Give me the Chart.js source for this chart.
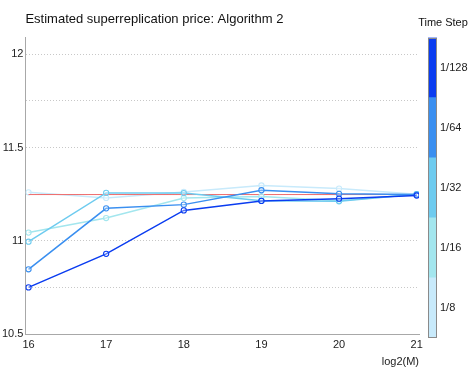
<!DOCTYPE html>
<html>
<head>
<meta charset="utf-8">
<script src="https://cdn.jsdelivr.net/npm/chart.js@4/dist/chart.umd.min.js"></script>
<style>
  body { margin: 0; background: #fff; }
  #wrap { position: relative; width: 471px; height: 377px; }
  #main { position: absolute; left: 0; top: 0; }
  #bar { position: absolute; left: 415px; top: 0; }
</style>
</head>
<body>
<div id="wrap">
  <canvas id="main" width="471" height="377"></canvas>
  <canvas id="bar" width="56" height="377"></canvas>
</div>
<script>
// === DATA ===
const logM = [16, 17, 18, 19, 20, 21];
const step8   = [11.260, 11.230, 11.262, 11.297, 11.280, 11.250];
const step16  = [11.044, 11.122, 11.229, 11.238, 11.215, 11.250];
const step32  = [10.995, 11.257, 11.256, 11.215, 11.212, 11.250];
const step64  = [10.847, 11.174, 11.194, 11.271, 11.252, 11.248];
const step128 = [10.750, 10.930, 11.163, 11.214, 11.226, 11.243];
const refPrice = [11.248, 11.248, 11.248, 11.248, 11.248, 11.248];

const stepLabels = ["1/8", "1/16", "1/32", "1/64", "1/128"];
const stepColors = ["#c8eafb", "#a3e6ee", "#6ecbef", "#3a8ff0", "#0a3cf0"];
const stepSeries = [step8, step16, step32, step64, step128];
const yTicks = [10.5, 10.75, 11, 11.25, 11.5, 11.75, 12];

Chart.defaults.font.family = "'Liberation Sans', Arial, sans-serif";
Chart.defaults.font.size = 11;
Chart.defaults.color = "#222";

const pts = arr => arr.map((v, i) => ({ x: logM[i], y: v }));

const lineSet = (i) => ({
  label: stepLabels[i],
  data: pts(stepSeries[i]),
  borderColor: stepColors[i],
  backgroundColor: "rgba(255,255,255,0)",
  borderWidth: 1.5,
  pointRadius: 2.6,
  pointBorderWidth: 1.1,
  pointBorderColor: stepColors[i],
  pointBackgroundColor: "rgba(255,255,255,0.3)"
});

// first dataset is drawn last (on top): darkest first, red above 1/8 only
const datasets = [
  lineSet(4), lineSet(3), lineSet(2), lineSet(1),
  { label: "reference", data: pts(refPrice), borderColor: "#f06c6c", borderWidth: 1, pointRadius: 0 },
  lineSet(0)
];

// === MAIN CHART ===
new Chart(document.getElementById("main"), {
  type: "line",
  data: { datasets },
  options: {
    responsive: false,
    animation: false,
    layout: { padding: { left: 0, right: 52, top: 0, bottom: 8.6 } },
    plugins: {
      legend: { display: false },
      tooltip: { enabled: false },
      title: {
        display: true,
        text: "Estimated superreplication price: Algorithm 2",
        align: "start",
        fullSize: false,
        color: "#111",
        font: { size: 13, weight: "normal" },
        padding: { top: 12, bottom: 10 }
      }
    },
    scales: {
      x: {
        type: "linear",
        min: 15.96,
        max: 21.03,
        afterBuildTicks: s => { s.ticks = logM.map(v => ({ value: v })); },
        grid: { display: false, drawTicks: false },
        border: { color: "#a8a8a8", width: 1 },
        ticks: { padding: 4, color: "#222" },
        title: {
          display: true,
          text: "log2(M)",
          align: "end",
          color: "#222",
          font: { size: 11 },
          padding: { top: 0, bottom: 0 }
        }
      },
      y: {
        min: 10.5,
        max: 12.09,
        afterBuildTicks: s => { s.ticks = yTicks.map(v => ({ value: v })); },
        grid: { color: "#c8c8c8", drawTicks: false },
        border: { color: "#a8a8a8", width: 1, dash: [1, 2] },
        ticks: {
          padding: 2,
          color: "#222",
          callback: v => (Number.isInteger(v * 2) ? String(v) : "")
        }
      }
    }
  }
});

// === COLOR BAR ===
const outline = {
  id: "outline",
  afterDatasetsDraw(chart) {
    const a = chart.chartArea, ctx = chart.ctx;
    ctx.save();
    ctx.strokeStyle = "#8a8a8a";
    ctx.lineWidth = 1;
    ctx.strokeRect(Math.round(a.left) + 0.5, Math.round(a.top) + 0.5,
      Math.round(a.right - a.left) - 1, Math.round(a.bottom - a.top) - 1);
    ctx.restore();
  }
};

new Chart(document.getElementById("bar"), {
  type: "bar",
  data: {
    labels: [""],
    datasets: stepLabels.map((l, i) => ({
      label: l,
      data: [1],
      xAxisID: "x",
      yAxisID: "y",
      backgroundColor: stepColors[i],
      borderWidth: 0,
      barPercentage: 1,
      categoryPercentage: 1
    }))
  },
  options: {
    responsive: false,
    animation: false,
    layout: { padding: { left: 0, right: 0, top: 0, bottom: 39 } },
    plugins: {
      legend: { display: false },
      tooltip: { enabled: false },
      title: {
        display: true,
        text: "Time Step",
        color: "#111",
        font: { size: 11, weight: "normal" },
        padding: { top: 16, bottom: 8.4 }
      }
    },
    scales: {
      x: { display: false, stacked: true },
      y: {
        position: "right",
        stacked: true,
        min: 0,
        max: 5,
        afterBuildTicks: s => { s.ticks = stepLabels.map((l, i) => ({ value: i + 0.5 })); },
        afterFit: s => { s.width = 34; },
        grid: { display: false, drawTicks: false },
        border: { display: false },
        ticks: {
          padding: 3,
          color: "#222",
          callback: (v, i) => stepLabels[i]
        }
      },
      gap: {
        type: "linear",
        axis: "y",
        position: "left",
        min: 0,
        max: 1,
        afterFit: s => { s.width = 13; },
        grid: { display: false, drawTicks: false },
        border: { display: false },
        ticks: { display: false }
      }
    }
  },
  plugins: [outline]
});
</script>
</body>
</html>
